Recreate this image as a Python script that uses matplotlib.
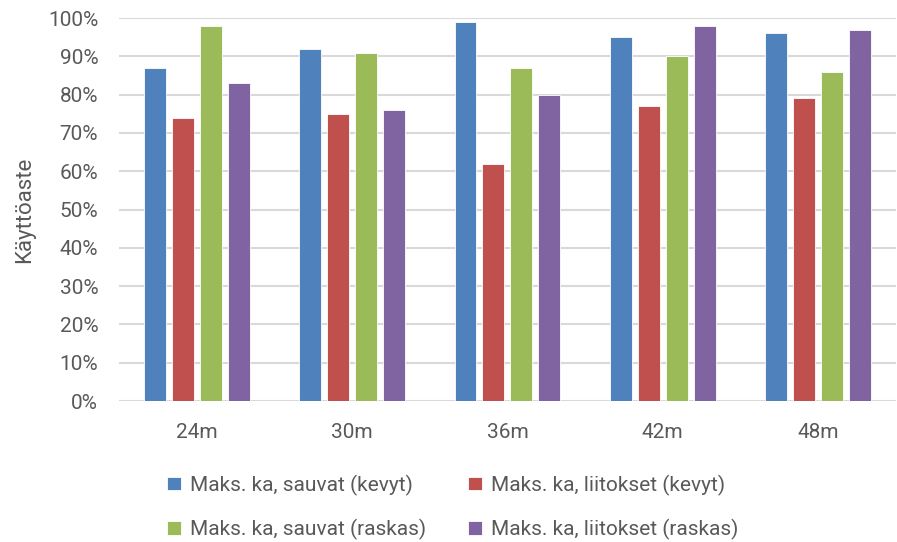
import matplotlib.pyplot as plt
import numpy as np

plt.rcParams['font.family'] = ['Roboto', 'DejaVu Sans']

spans = ['24m', '30m', '36m', '42m', '48m']
sauvat_kevyt = [87, 92, 99, 95, 96]
liitokset_kevyt = [74, 75, 62, 77, 79]
sauvat_raskas = [98, 91, 87, 90, 86]
liitokset_raskas = [83, 76, 80, 98, 97]

series = [
    ('Maks. ka, sauvat (kevyt)', sauvat_kevyt, '#4F81BD'),
    ('Maks. ka, liitokset (kevyt)', liitokset_kevyt, '#C0504D'),
    ('Maks. ka, sauvat (raskas)', sauvat_raskas, '#9BBB59'),
    ('Maks. ka, liitokset (raskas)', liitokset_raskas, '#8064A2'),
]

grey = '#595959'
fig = plt.figure(figsize=(8.97, 5.42), dpi=100)
ax = fig.add_axes([0.1327, 0.2601, 0.866, 0.7066])

x = np.arange(len(spans))
width = 0.141
step = 0.18
bars = []
for i, (name, vals, col) in enumerate(series):
    b = ax.bar(x + (i - 1.5) * step, vals, width, color=col,
               edgecolor='white', linewidth=0.6, label=name, zorder=3)
    bars.append(b)

ax.set_xlim(-0.5, len(spans) - 0.5)
ax.set_ylim(0, 100)
ax.set_yticks(np.arange(0, 101, 10))
ax.set_yticklabels([f'{v}%' for v in range(0, 101, 10)])
ax.set_xticks(x)
ax.set_xticklabels(spans)
ax.tick_params(length=0, labelsize=15, colors=grey)
ax.tick_params(axis='x', pad=16)
ax.tick_params(axis='y', pad=15)
ax.yaxis.grid(True, color='#D9D9D9', linewidth=1.5, zorder=0)
for s in ax.spines.values():
    s.set_visible(False)
ax.set_ylabel('Käyttöaste', fontsize=16, color=grey, labelpad=9)

# legend rows: blue/red then green/purple
order = [0, 2, 1, 3]
fig.legend([bars[i] for i in order], [series[i][0] for i in order],
           loc='center', bbox_to_anchor=(0.505, 1 - 507 / 542), ncol=2,
           frameon=False, fontsize=15, handlelength=0.65, handleheight=0.65,
           handletextpad=0.45, columnspacing=2.0, labelspacing=1.1,
           labelcolor=grey)

fig.savefig('out.png', dpi=100)
